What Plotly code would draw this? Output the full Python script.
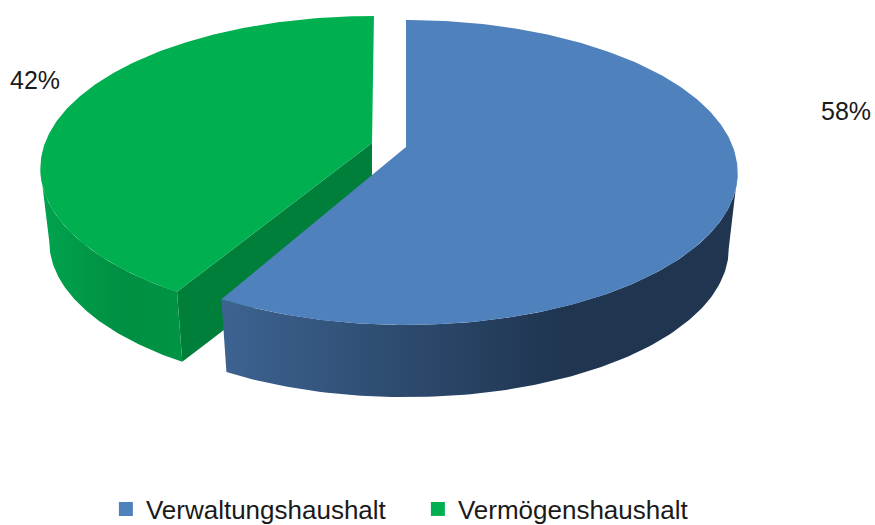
import numpy as np
import plotly.graph_objects as go

categories = ["Verwaltungshaushalt", "Vermögenshaushalt"]
shares = [58, 42]
colors = ["#4F81BD", "#00B050"]

# perspective of the tilted disc (pixels in a 875x525 canvas)
A, B, K = 327.0, 148.2, 0.1672
WALL_SCALE = 0.973
TANGENT = np.degrees(np.arccos(-K))


def project(theta, ox, oy, scale=1.0, drop=0.0):
    t = np.radians(theta)
    d = 1 + K * np.cos(t)
    return ox + scale * A * np.sin(t) / d, oy + drop - scale * B * np.cos(t) / d


def poly(x, y, **kw):
    return go.Scatter(x=x, y=y, mode="lines", fill="toself", line=dict(width=0),
                      hoverinfo="skip", showlegend=False, **kw)


def hgrad(stops):
    return dict(type="horizontal", colorscale=stops)


split = 360.0 * shares[0] / sum(shares)

# blue slice
bx, by, bdrop = 406.0, 147.0, 77.0
th_b = np.linspace(0, split, 240)
tw_b = np.linspace(TANGENT, split, 120)
top_bx, top_by = project(th_b, bx, by)
w1x, w1y = project(tw_b, bx, by)
w2x, w2y = project(tw_b[::-1], bx, by, WALL_SCALE, bdrop)

# green slice (exploded)
gx, gy, gdrop = 372.0, 143.0, 74.0
g_start = split + 1.9
th_g = np.linspace(g_start, 360.4, 200)
tw_g = np.linspace(g_start, 360 - TANGENT, 100)
top_gx, top_gy = project(th_g, gx, gy)
g1x, g1y = project(tw_g, gx, gy)
g2x, g2y = project(tw_g[::-1], gx, gy, WALL_SCALE, gdrop)
cx0, cy0 = project(np.array([g_start]), gx, gy)
cx1, cy1 = project(np.array([g_start]), gx, gy, WALL_SCALE, gdrop)

fig = go.Figure()
for name, col in zip(categories, colors):
    fig.add_trace(go.Scatter(x=[None], y=[None], mode="markers", name=name,
                             marker=dict(symbol="square", size=14, color=col)))

fig.add_trace(poly([gx, cx0[0], cx1[0], gx], [gy, cy0[0], cy1[0], gy + gdrop],
                   fillcolor="#007F3A"))
fig.add_trace(poly(np.r_[g1x, g2x], np.r_[g1y, g2y],
                   fillgradient=hgrad([[0, "#00A34E"], [0.6, "#008F42"], [1, "#009444"]])))
fig.add_trace(poly(np.r_[gx, top_gx], np.r_[gy, top_gy], fillcolor=colors[1]))
fig.add_trace(poly(np.r_[w1x, w2x], np.r_[w1y, w2y],
                   fillgradient=hgrad([[0, "#3D6391"], [0.66, "#1F3550"], [1, "#1F3550"]])))
fig.add_trace(poly(np.r_[bx, top_bx], np.r_[by, top_by], fillcolor=colors[0]))

fig.add_annotation(x=846, y=111, text=f"{shares[0]}%", showarrow=False,
                   font=dict(family="Liberation Sans", size=25, color="#1a1a1a"))
fig.add_annotation(x=35, y=80, text=f"{shares[1]}%", showarrow=False,
                   font=dict(family="Liberation Sans", size=25, color="#1a1a1a"))

fig.update_layout(
    width=875, height=525, margin=dict(l=0, r=0, t=0, b=0, autoexpand=False),
    paper_bgcolor="white", plot_bgcolor="white",
    xaxis=dict(range=[0, 875], visible=False, fixedrange=True),
    yaxis=dict(range=[525, 0], visible=False, fixedrange=True),
    legend=dict(orientation="h", x=0.121, y=0.0752, xanchor="left", yanchor="top",
                font=dict(family="Liberation Sans", size=26, color="#1a1a1a"),
                bgcolor="rgba(0,0,0,0)", entrywidth=267, entrywidthmode="pixels",
                itemwidth=30, tracegroupgap=0),
)
fig.write_html("out.html", config={"displayModeBar": False},
               post_script="document.body.style.margin='0';document.body.style.overflow='hidden';")
